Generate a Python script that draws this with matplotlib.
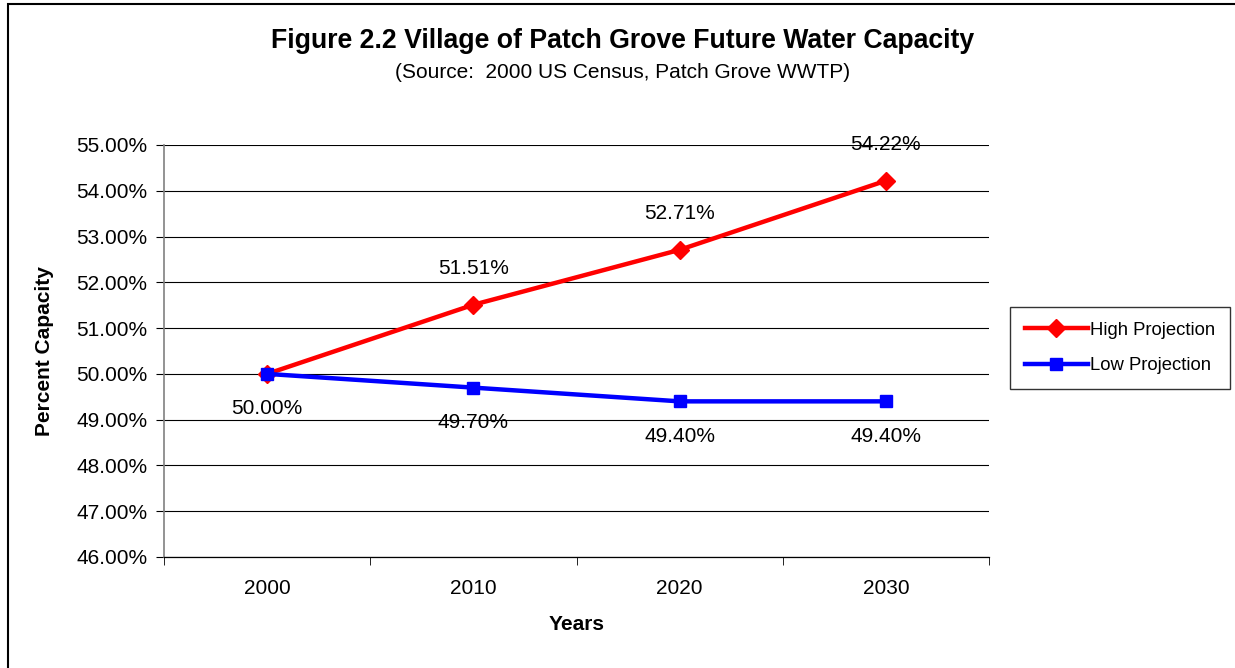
import matplotlib
matplotlib.use("Agg")
import matplotlib.pyplot as plt
from matplotlib.patches import Rectangle

plt.rcParams['font.family'] = ['Liberation Sans', 'DejaVu Sans']

years = ["2000", "2010", "2020", "2030"]
high = [50.00, 51.51, 52.71, 54.22]
low = [50.00, 49.70, 49.40, 49.40]
yticks = [46, 47, 48, 49, 50, 51, 52, 53, 54, 55]

W, H = 1235, 668
fig = plt.figure(figsize=(W/100, H/100), dpi=100)
ax = fig.add_axes([164/W, 1-557/H, (989-164)/W, (557-145)/H])

FS = 15
x = list(range(len(years)))
ax.plot(x, high, color='#FF0000', lw=3.2, marker='D', ms=9, label='High Projection', zorder=3)
ax.plot(x, low, color='#0000FF', lw=3.2, marker='s', ms=9, label='Low Projection', zorder=4)

for i, v in enumerate(high):
    if i == 0:
        continue
    ax.annotate(f"{v:.2f}%", (i, v), xytext=(0, 26), textcoords='offset points',
                ha='center', va='center', fontsize=FS)
for i, v in enumerate(low):
    ax.annotate(f"{v:.2f}%", (i, v), xytext=(0, -25), textcoords='offset points',
                ha='center', va='center', fontsize=FS)

ax.set_xlim(-0.5, len(years)-0.5)
ax.set_ylim(46, 55)
ax.set_yticks(yticks)
ax.set_yticklabels([f"{t:.2f}%" for t in yticks], fontsize=FS)
ax.set_xticks(x)
ax.set_xticklabels(years, fontsize=FS)
ax.set_xticks([i-0.5 for i in range(len(years)+1)], minor=True)
ax.tick_params(axis='x', which='major', length=0, pad=16)
ax.tick_params(axis='x', which='minor', length=6, direction='out', color='#000000')
ax.tick_params(axis='y', length=6, direction='out', color='#000000', pad=6)
ax.grid(axis='y', color='#000000', lw=0.8)
ax.set_axisbelow(True)
for s in ['top', 'right']:
    ax.spines[s].set_visible(False)
ax.spines['left'].set_color('#808080')
ax.spines['left'].set_linewidth(1.2)
ax.spines['bottom'].set_color('#000000')
ax.spines['bottom'].set_linewidth(0.9)

ax.set_ylabel("Percent Capacity", fontsize=FS, fontweight='bold', labelpad=16)
ax.set_xlabel("Years", fontsize=FS, fontweight='bold', labelpad=12)

fig.text(623/W, 1-41/H, "Figure 2.2 Village of Patch Grove Future Water Capacity",
         ha='center', va='center', fontsize=19.2, fontweight='bold')
fig.text(623/W, 1-72/H, "(Source:  2000 US Census, Patch Grove WWTP)",
         ha='center', va='center', fontsize=15)

leg = fig.legend(loc='center left', bbox_to_anchor=(1010/W, 1-348/H), fontsize=13.3,
                 frameon=True, fancybox=False, edgecolor='#000000', handlelength=3.4,
                 handletextpad=0.15, labelspacing=1.0, borderpad=0.8, borderaxespad=0)
leg.get_frame().set_linewidth(1.0)

fig.patches.append(Rectangle((8/W, -0.1), 1.5, 1-4/H+0.1, transform=fig.transFigure,
                             fill=False, edgecolor='#000000', lw=1.5))

fig.savefig("out.png", dpi=100)
